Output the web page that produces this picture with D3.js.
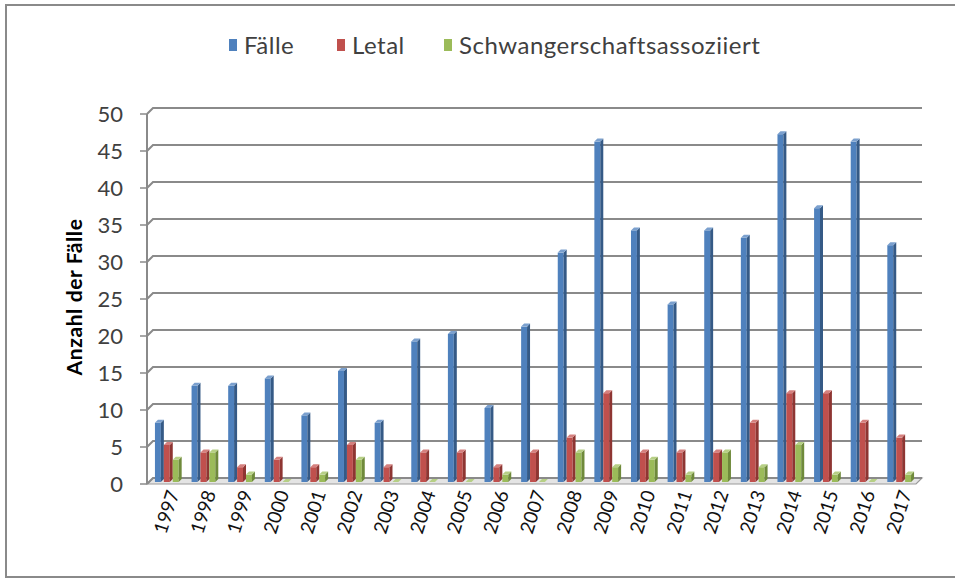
<!DOCTYPE html>
<html><head><meta charset="utf-8">
<script src="https://cdn.jsdelivr.net/npm/d3@7"></script>
<style>
html,body{margin:0;padding:0;background:#fff;}
svg{display:block;font-family:Lato,"Open Sans",sans-serif;}
</style></head>
<body>
<svg id="chart" width="955" height="579"></svg>
<script>
const years = ["1997","1998","1999","2000","2001","2002","2003","2004","2005","2006","2007","2008","2009","2010","2011","2012","2013","2014","2015","2016","2017"];
const faelle = [8,13,13,14,9,15,8,19,20,10,21,31,46,34,24,34,33,47,37,46,32];
const letal = [5,4,2,3,2,5,2,4,4,2,4,6,12,4,4,4,8,12,12,8,6];
const schwanger = [3,4,1,0,1,3,0,0,0,1,0,4,2,3,1,4,2,5,1,0,1];
const seriesNames = ["Fälle","Letal","Schwangerschaftsassoziiert"];
const yTicks = [0,5,10,15,20,25,30,35,40,45,50];

const colors = ["#4F81BD","#C0504D","#9BBB59"];
const sideColors = ["#355A86","#8E3532","#6F8A3B"];
const topColors = ["#7BA0CE","#D5807E","#B6CF85"];

const svg = d3.select("#chart");
// outer frame
svg.append("rect").attr("x",6).attr("y",5).attr("width",960).attr("height",572)
  .attr("fill","#fff").attr("stroke","#8a8a8a").attr("stroke-width",2);

const DX = 6, DY = -6;           // depth offset of back wall
const x0 = 147, x1 = 916;        // front edge extent
const y = d3.scaleLinear().domain([0,50]).range([484,114]);
const x = d3.scaleBand().domain(years).range([x0+3, x1+3]).paddingInner(0.27).paddingOuter(0.135);
const xs = d3.scaleBand().domain([0,1,2]).range([0, x.bandwidth()]);

const g = svg.append("g");

// floor
g.append("polygon")
  .attr("points", [[x0,y(0)],[x1,y(0)],[x1+DX,y(0)+DY],[x0+DX,y(0)+DY]].map(p=>p.join(",")).join(" "))
  .attr("fill","#e4e4e4").attr("stroke","#9a9a9a").attr("stroke-width",1.2);

// gridlines on side wall + back wall
yTicks.forEach(v=>{
  const yy = y(v);
  g.append("path")
    .attr("d", `M${x0},${yy} L${x0+DX},${yy+DY} L${x1+DX},${yy+DY}`)
    .attr("fill","none").attr("stroke","#8a8a8a").attr("stroke-width",2);
  g.append("line").attr("x1",x0-7).attr("x2",x0).attr("y1",yy).attr("y2",yy)
    .attr("stroke","#8a8a8a").attr("stroke-width",1.5);
});
// vertical axis line
g.append("line").attr("x1",x0).attr("x2",x0).attr("y1",y(50)).attr("y2",y(0))
  .attr("stroke","#8a8a8a").attr("stroke-width",2);

// y tick labels
svg.append("g").selectAll("text").data(yTicks).join("text")
  .attr("x",123).attr("y",d=>y(d)).attr("dy","0.36em")
  .attr("text-anchor","end").attr("font-size",22).attr("fill","#404040")
  .text(d=>d);

// y axis title
svg.append("text").attr("transform","translate(82,297) rotate(-90)")
  .attr("text-anchor","middle").attr("font-size",21).attr("font-weight","bold")
  .attr("letter-spacing","0.6").attr("fill","#000")
  .text("Anzahl der Fälle");

// bars
const all = [faelle, letal, schwanger];
const bd = 3; // bar depth
const bw = xs.bandwidth() - bd;
all.forEach((vals,si)=>{
  const bg = g.append("g");
  vals.forEach((v,i)=>{
    const bx = x(years[i]) + xs(si);
    const fy = y(v) - 2, by = y(0) - 2;
    bg.append("rect").attr("x",bx).attr("y",fy).attr("width",bw).attr("height",Math.max(0,by-fy))
      .attr("fill",colors[si]);
    bg.append("polygon")
      .attr("points",[[bx+bw,fy],[bx+bw+bd,fy-bd],[bx+bw+bd,by-bd],[bx+bw,by]].map(p=>p.join(",")).join(" "))
      .attr("fill",sideColors[si]);
    bg.append("polygon")
      .attr("points",[[bx,fy],[bx+bd,fy-bd],[bx+bw+bd,fy-bd],[bx+bw,fy]].map(p=>p.join(",")).join(" "))
      .attr("fill",topColors[si]);
  });
});

// x labels
svg.append("g").selectAll("text").data(years).join("text")
  .attr("transform",d=>`translate(${x(d)+x.bandwidth()/2+5},491) rotate(-72)`)
  .attr("text-anchor","end").attr("dy","0.35em")
  .attr("font-size",19).attr("fill","#111")
  .text(d=>d);

// legend
const legX = [229, 337, 444];
const lg = svg.append("g");
seriesNames.forEach((n,i)=>{
  lg.append("rect").attr("x",legX[i]).attr("y",39).attr("width",8).attr("height",12).attr("fill",colors[i]);
  lg.append("text").attr("x",legX[i]+15).attr("y",45).attr("dy","0.36em")
    .attr("font-size",24).attr("letter-spacing","0.5").attr("fill","#404040").text(n);
});
</script>
</body></html>
